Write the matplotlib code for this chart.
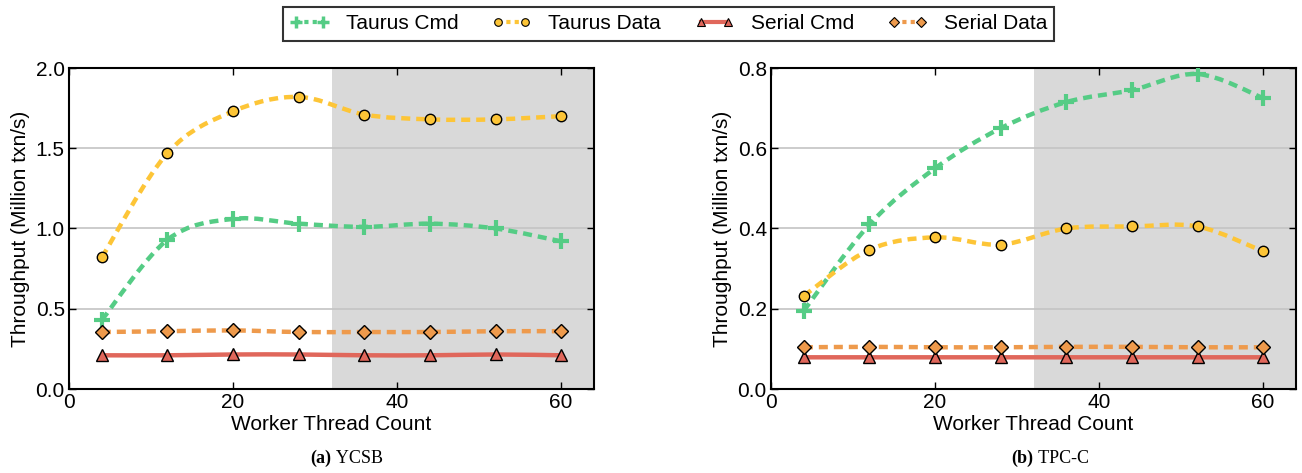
import numpy as np
import matplotlib
matplotlib.use("Agg")
import matplotlib.pyplot as plt
import matplotlib.ticker as mticker
from matplotlib.path import Path
from matplotlib.patches import PathPatch
from matplotlib.lines import Line2D

plt.rcParams['font.family'] = ['Liberation Sans', 'DejaVu Sans']
plt.rcParams['lines.scale_dashes'] = False

threads = [4, 12, 20, 28, 36, 44, 52, 60]

# (a) YCSB
ycsb_taurus_cmd = [0.43, 0.93, 1.06, 1.03, 1.01, 1.03, 1.00, 0.92]
ycsb_taurus_data = [0.82, 1.47, 1.73, 1.82, 1.71, 1.68, 1.68, 1.70]
ycsb_serial_cmd = [0.21, 0.21, 0.215, 0.215, 0.21, 0.21, 0.215, 0.21]
ycsb_serial_data = [0.355, 0.36, 0.365, 0.355, 0.355, 0.355, 0.36, 0.36]

# (b) TPC-C
tpcc_taurus_cmd = [0.195, 0.41, 0.55, 0.65, 0.715, 0.745, 0.785, 0.725]
tpcc_taurus_data = [0.232, 0.347, 0.378, 0.36, 0.40, 0.405, 0.405, 0.343]
tpcc_serial_cmd = [0.079, 0.079, 0.079, 0.079, 0.079, 0.079, 0.079, 0.079]
tpcc_serial_data = [0.104, 0.105, 0.104, 0.104, 0.105, 0.105, 0.104, 0.104]

names = ['Taurus Cmd', 'Taurus Data', 'Serial Cmd', 'Serial Data']
colors = ['#55cc85', '#fdc537', '#e0675b', '#ee9a4c']
markers = ['+', 'o', '^', 'D']
msizes = [11, 7.5, 8, 7.5]
dashed = [True, True, False, True]


def smooth_path(x, y):
    # catmull-rom style cubic bezier through the data points
    x = np.asarray(x, float)
    y = np.asarray(y, float)
    verts = [(x[0], y[0])]
    codes = [Path.MOVETO]
    n = len(x)
    for i in range(n - 1):
        i0 = max(i - 1, 0)
        i3 = min(i + 2, n - 1)
        c1 = (x[i] + (x[i + 1] - x[i0]) / 6, y[i] + (y[i + 1] - y[i0]) / 6)
        c2 = (x[i + 1] - (x[i3] - x[i]) / 6, y[i + 1] - (y[i3] - y[i]) / 6)
        verts += [c1, c2, (x[i + 1], y[i + 1])]
        codes += [Path.CURVE4] * 3
    return Path(verts, codes)


def draw(ax, series, ymax, yticks, caption_tag, caption):
    ax.axvspan(32, 64, color='#d9d9d9', zorder=0, lw=0)
    ax.set_axisbelow(True)
    ax.yaxis.grid(True, color='#c4c4c4', lw=1.2, zorder=0.5)
    for k, vals in enumerate(series):
        ls = (0, (6.5, 4.3)) if dashed[k] else '-'
        patch = PathPatch(smooth_path(threads, vals), fill=False,
                          edgecolor=colors[k], lw=3.2, linestyle=ls,
                          capstyle='butt', zorder=2 + k * 0.1)
        ax.add_patch(patch)
        if markers[k] == '+':
            ax.plot(threads, vals, ls='none', marker='+', ms=msizes[k],
                    mew=3, color=colors[k], zorder=3)
        else:
            ax.plot(threads, vals, ls='none', marker=markers[k], ms=msizes[k],
                    mfc=colors[k], mec='black', mew=1.0, zorder=3)
    ax.set_xlim(0, 64)
    ax.set_ylim(0, ymax)
    ax.set_xticks([0, 20, 40, 60])
    ax.set_yticks(yticks)
    ax.yaxis.set_major_formatter(mticker.FormatStrFormatter('%.1f'))
    ax.tick_params(direction='in', top=True, right=True, labelsize=15,
                   length=5, width=1)
    ax.tick_params(axis='x', pad=3)
    ax.tick_params(axis='y', pad=3)
    for s in ax.spines.values():
        s.set_linewidth(1.5)
    ax.set_xlabel('Worker Thread Count', fontsize=15, labelpad=2)
    ax.set_ylabel('Throughput (Million txn/s)', fontsize=15, labelpad=4)
    ax.text(0.5, -0.215, caption_tag, transform=ax.transAxes, ha='right',
            va='center', fontsize=13, family='Liberation Serif', weight='bold')
    ax.text(0.5, -0.215, ' ' + caption, transform=ax.transAxes, ha='left',
            va='center', fontsize=13, family='Liberation Serif')


fig = plt.figure(figsize=(13.02, 4.73), dpi=100)
W, H = 1302, 473
ax1 = fig.add_axes([69 / W, 1 - 389 / H, 525 / W, 321 / H])
ax2 = fig.add_axes([771 / W, 1 - 389 / H, 525 / W, 321 / H])

draw(ax1, [ycsb_taurus_cmd, ycsb_taurus_data, ycsb_serial_cmd, ycsb_serial_data],
     2.0, [0.0, 0.5, 1.0, 1.5, 2.0], '(a)', 'YCSB')
draw(ax2, [tpcc_taurus_cmd, tpcc_taurus_data, tpcc_serial_cmd, tpcc_serial_data],
     0.8, [0.0, 0.2, 0.4, 0.6, 0.8], '(b)', 'TPC-C')

handles = []
for k in range(4):
    ls = (0, (3, 3)) if dashed[k] else '-'
    if markers[k] == '+':
        h = Line2D([], [], color=colors[k], lw=3, ls=ls,
                   marker='+', ms=8, mew=2.5)
    else:
        h = Line2D([], [], color=colors[k], lw=3, ls=ls,
                   marker=markers[k], ms=5.5, mfc=colors[k], mec='black', mew=0.8)
    handles.append(h)
leg = fig.legend(handles, names, loc='upper center', bbox_to_anchor=(0.5134, 0.998),
                 ncol=4, fontsize=15, frameon=True, fancybox=False, numpoints=2,
                 edgecolor='black', handlelength=1.9, columnspacing=1.6,
                 handletextpad=0.8, borderpad=0.35, borderaxespad=0.3)
leg.get_frame().set_linewidth(1.5)

fig.savefig('out.png', dpi=100)
